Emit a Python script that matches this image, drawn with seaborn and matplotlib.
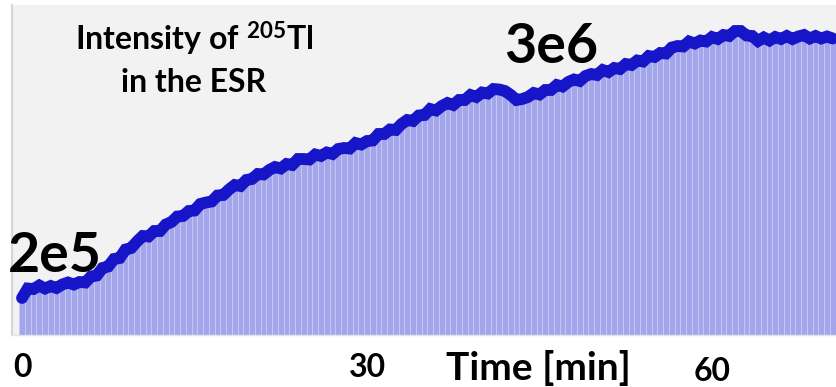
import matplotlib
matplotlib.use("Agg")
import matplotlib.pyplot as plt
import matplotlib.transforms as mtransforms
import seaborn as sns
import pandas as pd

# ---- data ----
time_min = [0, 0.5, 1, 1.5, 2, 2.5, 3, 3.5, 4, 4.5, 5, 5.5, 6, 6.5, 7, 7.5, 8, 8.5, 9, 9.5,
            10, 10.5, 11, 11.5, 12, 12.5, 13, 13.5, 14, 14.5, 15, 15.5, 16, 16.5, 17, 17.5, 18, 18.5, 19, 19.5,
            20, 20.5, 21, 21.5, 22, 22.5, 23, 23.5, 24, 24.5, 25, 25.5, 26, 26.5, 27, 27.5, 28, 28.5, 29, 29.5,
            30, 30.5, 31, 31.5, 32, 32.5, 33, 33.5, 34, 34.5, 35, 35.5, 36, 36.5, 37, 37.5, 38, 38.5, 39, 39.5,
            40, 40.5, 41, 41.5, 42, 42.5, 43, 43.5, 44, 44.5, 45, 45.5, 46, 46.5, 47, 47.5, 48, 48.5, 49, 49.5,
            50, 50.5, 51, 51.5, 52, 52.5, 53, 53.5, 54, 54.5, 55, 55.5, 56, 56.5, 57, 57.5, 58, 58.5, 59, 59.5,
            60, 60.5, 61, 61.5, 62, 62.5, 63, 63.5, 64, 64.5, 65, 65.5, 66, 66.5, 67, 67.5, 68, 68.5, 69, 69.5,
            70, 70.5]

# intensity of 205Tl (x 1e6 counts, arbitrary scale)
intensity_e6 = [0.37, 0.465, 0.46, 0.495, 0.465, 0.49, 0.47, 0.505, 0.525, 0.505, 0.53, 0.525, 0.585, 0.595, 0.67, 0.685, 0.76, 0.77, 0.855, 0.87,
                0.935, 0.99, 0.985, 1.04, 1.04, 1.105, 1.13, 1.185, 1.19, 1.24, 1.245, 1.31, 1.325, 1.335, 1.395, 1.40, 1.455, 1.50, 1.49, 1.55,
                1.56, 1.61, 1.605, 1.65, 1.68, 1.665, 1.71, 1.70, 1.76, 1.76, 1.755, 1.805, 1.79, 1.825, 1.81, 1.86, 1.87, 1.865, 1.92, 1.905,
                1.94, 1.945, 2.01, 2.01, 2.055, 2.05, 2.11, 2.15, 2.14, 2.195, 2.20, 2.26, 2.245, 2.29, 2.32, 2.30, 2.35, 2.35, 2.40, 2.38,
                2.425, 2.415, 2.46, 2.455, 2.44, 2.40, 2.35, 2.36, 2.38, 2.42, 2.405, 2.45, 2.45, 2.50, 2.485, 2.53, 2.555, 2.54, 2.59, 2.61,
                2.60, 2.65, 2.63, 2.67, 2.66, 2.71, 2.70, 2.745, 2.735, 2.79, 2.78, 2.82, 2.815, 2.875, 2.89, 2.885, 2.935, 2.915, 2.945, 2.935,
                2.98, 2.96, 3.00, 2.99, 3.04, 3.04, 2.995, 2.99, 2.94, 2.975, 2.945, 2.98, 2.96, 2.99, 2.96, 2.985, 3.00, 2.965, 2.99, 2.965,
                2.985, 2.965]

tick_values = [0, 30, 60]
tick_labels = ["0", "30", "60"]
title_text = "Intensity of $^{205}$Tl\nin the ESR"
start_label = "2e5"
end_label = "3e6"
x_label = "Time [min]"

df = pd.DataFrame({"time": time_min, "intensity": intensity_e6})

# ---- style ----
sns.set_style("white")
plt.rcParams["font.family"] = ["Lato", "DejaVu Sans"]
plt.rcParams["text.color"] = "black"
plt.rcParams["xtick.color"] = "black"
plt.rcParams["axes.labelcolor"] = "black"
plt.rcParams["mathtext.fontset"] = "custom"
plt.rcParams["mathtext.rm"] = "Lato:bold"
plt.rcParams["mathtext.it"] = "Lato:bold"
plt.rcParams["mathtext.bf"] = "Lato:bold"

fig = plt.figure(figsize=(8.37, 3.87), dpi=100)
ax = fig.add_axes([12 / 837, 52 / 387, 825 / 837, 330 / 387])
ax.set_facecolor("#f2f2f2")

sns.barplot(data=df, x="time", y="intensity", native_scale=True, color="#a3a6ea",
            saturation=1, width=1.0, errorbar=None, edgecolor="#c8caf3", linewidth=0.6, ax=ax)
sns.lineplot(data=df, x="time", y="intensity", color="#1616c8", linewidth=8.5,
             errorbar=None, ax=ax, solid_joinstyle="miter")

ax.set_xlim(-0.87, 70.87)
ax.set_ylim(0, 3.30)

for s in ["top", "right"]:
    ax.spines[s].set_visible(False)
ax.spines["left"].set_color("#d6d6d6")
ax.spines["left"].set_linewidth(1.5)
ax.spines["bottom"].set_color("#e4e4e4")
ax.spines["bottom"].set_linewidth(1.0)

ax.set_yticks([])
ax.set_ylabel("")
ax.set_xticks(tick_values)
ax.set_xticklabels(tick_labels, fontsize=23, fontweight="bold", color="black")
ax.tick_params(axis="x", length=0, pad=13)
lab60 = ax.get_xticklabels()[2]
lab60.set_transform(lab60.get_transform() +
                    mtransforms.ScaledTranslation(0, -4 / 100, fig.dpi_scale_trans))

ax.set_xlabel(x_label, fontsize=28, fontweight="bold", color="black")
ax.xaxis.set_label_coords((538 - 12) / 825, -15 / 330, transform=ax.transAxes)
ax.xaxis.label.set_verticalalignment("top")

fig.text(194 / 837, 1 - 58 / 387, title_text, ha="center", va="center", fontsize=23,
         fontweight="bold", linespacing=1.42, color="black")
fig.text(55 / 837, 1 - 256 / 387, start_label, ha="center", va="center", fontsize=40,
         fontweight="bold", color="black")
fig.text(551 / 837, 1 - 47 / 387, end_label, ha="center", va="center", fontsize=40,
         fontweight="bold", color="black")

fig.savefig("out.png", dpi=100)
